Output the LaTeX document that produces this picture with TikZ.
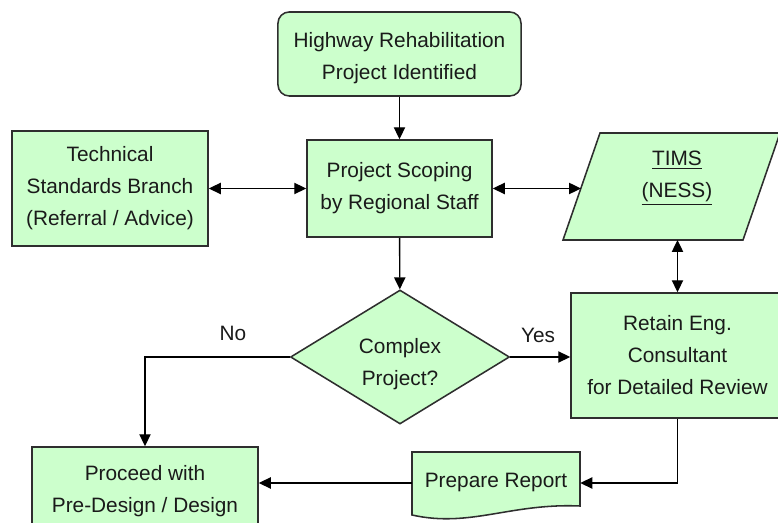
\documentclass[tikz,border=0pt]{standalone}
\usepackage{fontspec}
\setmainfont{Liberation Sans}
\usetikzlibrary{arrows.meta,shapes.geometric}
\definecolor{FlowGreen}{HTML}{CCFFCC}
\definecolor{FlowEdge}{HTML}{2E2E2E}
\definecolor{FlowInk}{HTML}{1A1A1A}

\begin{document}
\begin{tikzpicture}[x=0.025cm, y=-0.025cm,
    >={Triangle[length=8.5pt,width=8pt]},
    flowtext/.style={font=\fontsize{14.8}{22.8}\selectfont, text=FlowInk, align=center},
    flowbox/.style={flowtext, draw=FlowEdge, fill=FlowGreen, line width=1.1pt, inner sep=0pt},
    link/.style={line width=1pt, black}]

    \useasboundingbox (0,0) rectangle (778,523);

    % ========== TOP: start and scoping ==========
    \node[flowbox, rounded corners=8pt, minimum width=6.075cm, minimum height=2.1cm]
        (start) at (399.5,54) {};
    \node[flowtext] (startText) at (399.5,58) {Highway Rehabilitation\\Project Identified};

    \node[flowbox, minimum width=4.625cm, minimum height=2.425cm]
        (scoping) at (399.5,188.5) {Project Scoping\\by Regional Staff};

    \node[flowbox, minimum width=4.9cm, minimum height=2.875cm]
        (branch) at (110,188.5) {Technical\\Standards Branch\\(Referral / Advice)};

    % TIMS data store (parallelogram)
    \draw[FlowEdge, fill=FlowGreen, line width=1.1pt]
        (600,133) -- (780,133) -- (743,240) -- (563,240) -- cycle;
    \node[flowtext] (tims) at (677,178) {\underline{TIMS}\\\underline{(NESS)}};
    \coordinate (timsW) at (581,188.5);
    \coordinate (timsS) at (677.5,240);

    % ========== MIDDLE: decision and consultant ==========
    \node[flowbox, diamond, aspect=1.63, minimum width=5.475cm, minimum height=3.35cm]
        (complex) at (400,357) {};
    \node[flowtext] (complexText) at (400,364) {Complex\\Project?};

    \node[flowbox, minimum width=5.325cm, minimum height=3.125cm]
        (retain) at (677.5,355.5) {Retain Eng.\\Consultant\\for Detailed Review};

    % ========== BOTTOM: report and design ==========
    \node[flowbox, minimum width=5.65cm, minimum height=2.2cm]
        (proceed) at (145,491) {Proceed with\\Pre-Design / Design};

    % Document shape
    \draw[FlowEdge, fill=FlowGreen, line width=1.1pt]
        (412,452) -- (580,452) -- (580,506)
        .. controls (510,503) and (470,528) .. (412,515) -- cycle;
    \node[flowtext, minimum width=4.2cm] (report) at (496,483) {Prepare Report};

    % ========== Connectors ==========
    \draw[link, ->] (start) -- (scoping);
    \draw[link, <->] (branch) -- (scoping);
    \draw[link, <->] (scoping) -- (timsW);
    \draw[link, <->] (timsS) -- (retain);
    \draw[link, ->] (scoping) -- (complex);
    \draw[link, ->] (complex.east) -- (retain.west |- complex.east);
    \draw[link, ->] (complex.west) -| (proceed.north);
    \draw[link, ->] (retain.south) |- (report.east);
    \draw[link, ->] (report.west) -- (report.west -| proceed.east);

    % Branch labels
    \node[flowtext] (lblNo) at (233,333) {No};
    \node[flowtext] (lblYes) at (538,335) {Yes};

\end{tikzpicture}
\end{document}
